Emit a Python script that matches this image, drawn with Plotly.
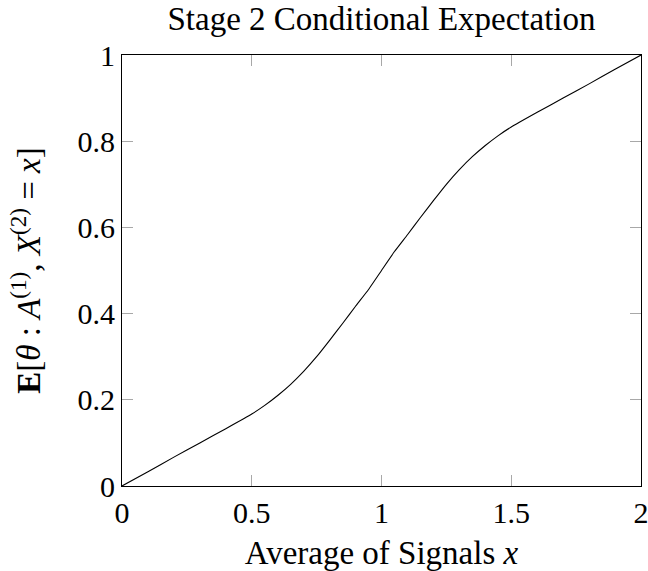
import plotly.graph_objects as go

# Average of signals x and the stage-2 conditional expectation E[theta | A1, X2 = x]
signal_avg = [0.0, 0.1, 0.2, 0.3, 0.4, 0.5, 0.55, 0.6, 0.65, 0.7, 0.75, 0.8, 0.85,
              0.9, 0.95, 1.0, 1.05, 1.1, 1.15, 1.2, 1.25, 1.3, 1.35, 1.4, 1.45,
              1.5, 1.6, 1.7, 1.8, 1.9, 2.0]
cond_exp = [0.0, 0.033, 0.067, 0.100, 0.133, 0.167, 0.187, 0.210, 0.236, 0.266,
            0.300, 0.338, 0.377, 0.417, 0.456, 0.500, 0.544, 0.583, 0.623, 0.662,
            0.700, 0.734, 0.764, 0.790, 0.813, 0.833, 0.867, 0.900, 0.933, 0.967,
            1.0]

x_ticks = [0, 0.5, 1, 1.5, 2]
x_tick_text = ["0", "0.5", "1", "1.5", "2"]
y_ticks = [0, 0.2, 0.4, 0.6, 0.8, 1]
y_tick_text = ["0", "0.2", "0.4", "0.6", "0.8", "1"]

FONT = "Liberation Serif"

fig = go.Figure()
fig.add_trace(go.Scatter(
    x=signal_avg, y=cond_exp, mode="lines",
    line=dict(color="black", width=1.1, shape="spline", smoothing=0.3),
    showlegend=False, hoverinfo="skip",
))

axis_common = dict(
    showline=True, linecolor="black", linewidth=1.2, mirror="ticks",
    ticks="inside", ticklen=11, tickwidth=1.3, tickcolor="#a8a8a8",
    showgrid=False, zeroline=False, ticklabeloverflow="allow",
    tickfont=dict(family=FONT, size=30, color="black"),
)

fig.update_layout(
    width=648, height=571,
    margin=dict(l=122, r=7, t=55, b=85, autoexpand=False),
    paper_bgcolor="white", plot_bgcolor="white",
    title=dict(text="Stage 2 Conditional Expectation",
               font=dict(family=FONT, size=33, color="black"),
               x=0.5 + (122 - 7) / 2 / 648, xanchor="center",
               y=1 - 18 / 571, yanchor="middle", yref="container"),
    xaxis=dict(range=[0, 2], tickvals=x_ticks, ticktext=x_tick_text,
               title=dict(text="Average of Signals <i>x</i>",
                          font=dict(family=FONT, size=33, color="black"),
                          standoff=14),
               automargin=False, **axis_common),
    yaxis=dict(range=[0, 1], tickvals=y_ticks, ticktext=y_tick_text,
               title=dict(text="<b>E</b>[<i>θ</i> : <i>A</i><sup>(1)</sup>, "
                               "<i>X</i><sup>(2)</sup> = <i>x</i>]",
                          font=dict(family=FONT, size=33, color="black"),
                          standoff=26),
               automargin=False, **axis_common),
)

fig.write_html("out.html")
